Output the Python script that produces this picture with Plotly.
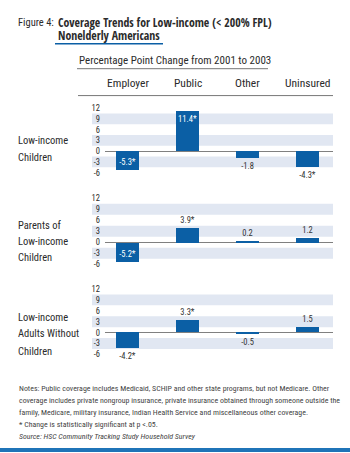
import plotly.graph_objects as go

categories = ["Employer", "Public", "Other", "Uninsured"]
group_lines = [["Low-income", "Children"],
               ["Parents of", "Low-income", "Children"],
               ["Low-income", "Adults Without", "Children"]]
children = [-5.3, 11.4, -1.8, -4.3]
parents = [-5.2, 3.9, 0.2, 1.2]
adults = [-4.2, 3.3, -0.5, 1.5]
labels_children = ["-5.3*", "11.4*", "-1.8", "-4.3*"]
labels_parents = ["-5.2*", "3.9*", "0.2", "1.2"]
labels_adults = ["-4.2*", "3.3*", "-0.5", "1.5"]
tickvals = [12, 9, 6, 3, 0, -3, -6]
ticktext = ["12", "9", "6", "3", "0", "-3", "-6"]

W, H = 350, 453
FONT = "Roboto Condensed, DejaVu Sans Condensed, sans-serif"
BOLD = "Open Sans Condensed, Roboto Condensed, sans-serif"
BAR = "#0b5fa5"
BAND = "#e1e7f2"
TXT = "#2b2b2b"

def px(x):
    return x / W

def py(y):
    return 1 - y / H

panels = [(104.1, 175.9), (194.6, 268.0), (285.6, 358.6)]
label_ys = [[140, 157], [225, 242, 258], [318, 334, 352]]
series = [children, parents, adults]
texts = [labels_children, labels_parents, labels_adults]

fig = go.Figure()
shapes = []
annotations = []
for i, (vals, txts, (top, bot)) in enumerate(zip(series, texts, panels)):
    n = "" if i == 0 else str(i + 1)
    pos = ["inside" if abs(v) >= 5 else "outside" for v in vals]
    colors = ["white" if p == "inside" else "#333333" for p in pos]
    fig.add_trace(go.Bar(
        x=categories, y=vals, text=txts, textposition=pos,
        insidetextanchor="end", textangle=0, constraintext="none",
        textfont=dict(family=FONT, size=8.5, color=colors),
        marker=dict(color=BAR, line=dict(width=0)),
        width=0.38, cliponaxis=False, showlegend=False,
        xaxis="x" + n, yaxis="y" + n,
    ))
    fig.layout["xaxis" + n] = dict(
        domain=[px(105), px(333)], range=[-0.375, 3.425],
        anchor="y" + n, showticklabels=False, showgrid=False,
        zeroline=False, showline=False, ticks="",
    )
    fig.layout["yaxis" + n] = dict(
        domain=[py(bot), py(top)], range=[-7, 13], anchor="x" + n,
        tickvals=tickvals, ticktext=ticktext, showgrid=False,
        zeroline=True, zerolinecolor="#808080", zerolinewidth=1,
        tickfont=dict(family=FONT, size=8.5, color=TXT), ticks="",
        ticklabelstandoff=4,
    )
    for c in [9, 3, -3]:
        shapes.append(dict(type="rect", xref="paper", yref="y" + n,
                           x0=px(92), x1=px(333), y0=c - 1.5, y1=c + 1.5,
                           fillcolor=BAND, line=dict(width=0), layer="below"))
    for line, yy in zip(group_lines[i], label_ys[i]):
        annotations.append(dict(
            text=line, xref="paper", yref="paper",
            x=px(16), y=py(yy), xanchor="left", yanchor="middle",
            showarrow=False, font=dict(family=FONT, size=10.5, color=TXT),
        ))

for c in categories:
    annotations.append(dict(text=c, xref="x", yref="paper", x=c, y=py(82),
                            xanchor="center", yanchor="middle", showarrow=False,
                            font=dict(family=FONT, size=11.5, color=TXT)))

annotations.append(dict(text="Figure 4:", xref="paper", yref="paper", x=px(16), y=py(22),
                        xanchor="left", yanchor="middle", showarrow=False,
                        font=dict(family=FONT, size=10.5, color=TXT)))
annotations.append(dict(text="<b>Coverage Trends for Low-income (< 200% FPL)</b>",
                        xref="paper", yref="paper", x=px(56), y=py(21.5),
                        xanchor="left", yanchor="middle", showarrow=False,
                        font=dict(family=BOLD, size=11.8, color=TXT)))
annotations.append(dict(text="<b>Nonelderly Americans</b>",
                        xref="paper", yref="paper", x=px(56), y=py(34.5),
                        xanchor="left", yanchor="middle", showarrow=False,
                        font=dict(family=BOLD, size=11.8, color=TXT)))
annotations.append(dict(text="Percentage Point Change from 2001 to 2003", xref="paper", yref="paper",
                        x=px(77), y=py(60), xanchor="left", yanchor="middle", showarrow=False,
                        font=dict(family=FONT, size=11, color=TXT)))

notes = [
    "Notes: Public coverage includes Medicaid, SCHIP and other state programs, but not Medicare. Other",
    "coverage includes private nongroup insurance, private insurance obtained through someone outside the",
    "family, Medicare, military insurance, Indian Health Service and miscellaneous other coverage.",
    "* Change is statistically significant at p <.05.",
    "<i>Source: HSC Community Tracking Study Household Survey</i>",
]
note_y = [389, 401, 413, 425, 437]
for t, yy in zip(notes, note_y):
    annotations.append(dict(text=t, xref="paper", yref="paper", x=px(17), y=py(yy),
                            xanchor="left", yanchor="middle", showarrow=False,
                            font=dict(family=FONT, size=7.9, color="#444444")))

shapes.append(dict(type="line", xref="paper", yref="paper", x0=px(55), x1=px(163),
                   y0=py(43), y1=py(43), line=dict(color=BAR, width=1.5)))
shapes.append(dict(type="line", xref="paper", yref="paper", x0=px(77), x1=px(268),
                   y0=py(68), y1=py(68), line=dict(color="#777777", width=1)))
shapes.append(dict(type="line", xref="paper", yref="paper", x0=px(78), x1=px(333),
                   y0=py(95), y1=py(95), line=dict(color="#777777", width=1)))
shapes.append(dict(type="rect", xref="paper", yref="paper", x0=0, x1=1,
                   y0=0, y1=py(449), fillcolor="#1f74b8", line=dict(width=0)))

fig.update_layout(
    width=W, height=H, margin=dict(l=0, r=0, t=0, b=0),
    paper_bgcolor="white", plot_bgcolor="rgba(0,0,0,0)",
    shapes=shapes, annotations=annotations, bargap=0,
    font=dict(family=FONT, color=TXT),
)
fig.write_html("out.html")
